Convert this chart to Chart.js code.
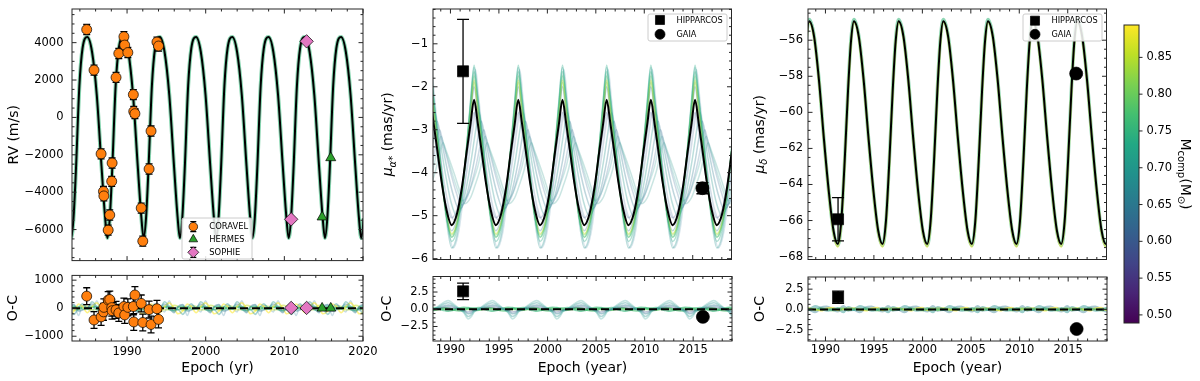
<!DOCTYPE html>
<html><head><meta charset="utf-8">
<script src="https://cdn.jsdelivr.net/npm/chart.js@4.4.1/dist/chart.umd.min.js"></script>
<style>html,body{margin:0;padding:0;background:#fff;}body{width:1200px;height:381px;position:relative;overflow:hidden;}</style>
</head><body>
<script>
// ================= DATA =================
// ---- Panel 1: radial velocities ----
const rvEpochRange = [1983.0, 2020.0];
const rvValueRange = [-7660, 5800];
const rvOCRange = [-1170, 1170];
const rvSeriesNames = ['CORAVEL', 'HERMES', 'SOPHIE'];
const rvModelPeakEpochs = [1980.34, 1984.95, 1989.56, 1994.17, 1998.78, 2003.39, 2008.0, 2012.61, 2017.22, 2021.83];
const rvModelCycleOffsets = [0, 0.6, 1.2, 1.8, 2.25, 2.55, 2.85, 3.15, 3.6, 4.0, 4.61];
const rvModelCycleValues = [4300, 3500, 1200, -2600, -5300, -6450, -5400, -2900, 1700, 3700, 4300];
const coravelEpochs = [1984.87, 1985.8, 1986.7, 1987.0, 1987.05, 1987.6, 1987.8, 1988.05, 1988.1, 1988.6, 1988.95, 1989.6, 1989.7, 1990.1, 1990.8, 1990.85, 1991.0, 1991.8, 1992.0, 1992.8, 1993.05, 1993.8, 1994.0];
const coravelRV = [4700, 2530, -1950, -3960, -4200, -6030, -5220, -3420, -2440, 2140, 3420, 4320, 3870, 3470, 1220, 320, 200, -4850, -6620, -2760, -730, 4030, 3820];
const coravelRVErr = [270, 270, 270, 270, 270, 270, 270, 270, 270, 270, 270, 270, 270, 270, 270, 270, 270, 270, 270, 270, 270, 270, 270];
const coravelOC = [430, -420, -310, -130, 30, 290, 310, 20, -90, -60, -170, 60, -240, 30, 60, -490, 470, 170, -510, -50, -580, -20, -400];
const coravelOCErr = [300, 300, 300, 300, 300, 300, 300, 300, 300, 300, 300, 300, 300, 300, 300, 300, 300, 300, 300, 300, 300, 300, 300];
const hermesEpochs = [2014.8, 2015.9];
const hermesRV = [-5330, -2160];
const hermesOC = [0, 0];
const sophieEpochs = [2010.87, 2012.83];
const sophieRV = [-5450, 4070];
const sophieOC = [10, 10];
const rvOCCycleOffsets = [0, 0.6, 1.2, 1.8, 2.3, 2.9, 3.5, 4.0, 4.61];
const rvOCSample1 = [0, 230, 60, -80, -40, -220, 20, 160, 0];
const rvOCSample2 = [20, 150, 0, -160, 60, 130, -100, -60, 20];
const rvOCSample3 = [-160, 60, 190, 0, -200, -110, 150, 60, -160];
const rvOCSample4 = [0, 80, -60, -90, 40, 70, -50, 30, 0];
const rvOCSample5 = [-40, 30, 60, 0, -60, 30, 60, -30, -40];
const rvOCSample6 = [0, -130, 260, -130, 0, 110, -260, 110, 0];
const rvOCSample7 = [60, -60, -40, 100, 60, -80, -30, 90, 60];

// ---- Panel 2: proper motion in RA ----
const astroEpochRange = [1988.2, 2019.0];
const astroSeriesNames = ['HIPPARCOS', 'GAIA'];
const pmraRange = [-6.02, -0.19];
const pmraOCRange = [-4.6, 4.75];
const pmraPeakEpochs = [1983.32, 1987.88, 1992.44, 1997.0, 2001.56, 2006.12, 2010.68, 2015.24, 2019.8];
const pmraCycleOffsets = [0, 0.35, 0.75, 1.2, 1.7, 2.25, 2.8, 3.3, 3.8, 4.2, 4.56];
const pmraBest = [-2.3, -2.8, -3.45, -4.2, -4.85, -5.22, -4.95, -4.35, -3.5, -2.85, -2.3];
const pmraSample1 = [-1.5, -2.15, -3.0, -4.0, -5.0, -5.6, -5.3, -4.5, -3.35, -2.3, -1.5];
const pmraSample2 = [-1.65, -2.25, -3.1, -4.05, -5.0, -5.5, -5.2, -4.45, -3.4, -2.4, -1.65];
const pmraSample3 = [-1.85, -2.45, -3.2, -4.1, -4.95, -5.42, -5.15, -4.45, -3.45, -2.55, -1.85];
const pmraSample4 = [-2.0, -2.55, -3.3, -4.15, -4.95, -5.35, -5.05, -4.4, -3.5, -2.65, -2.0];
const pmraSample5 = [-1.75, -2.35, -3.15, -4.1, -5.0, -5.5, -5.2, -4.45, -3.4, -2.45, -1.75];
const pmraSample6 = [-1.55, -2.2, -3.05, -4.05, -5.1, -5.75, -5.45, -4.6, -3.4, -2.35, -1.55];
const pmraSample7 = [-1.9, -2.5, -3.25, -4.15, -5.0, -5.45, -5.15, -4.45, -3.45, -2.6, -1.9];
const pmraSample8 = [-2.6, -3.0, -3.55, -4.2, -4.75, -5.05, -4.85, -4.3, -3.65, -3.05, -2.6];
const pmraSample9 = [-3.3, -3.5, -3.75, -4.05, -4.4, -4.72, -4.6, -4.3, -3.95, -3.55, -3.3];
const pmraSample10 = [-3.0, -3.3, -3.65, -4.05, -4.45, -4.75, -4.6, -4.25, -3.8, -3.35, -3.0];
const pmraSample11 = [-2.8, -3.15, -3.6, -4.1, -4.55, -4.85, -4.7, -4.3, -3.75, -3.2, -2.8];
const pmraSample12 = [-2.6, -3.0, -3.55, -4.15, -4.7, -5.0, -4.8, -4.3, -3.65, -3.05, -2.6];
const pmraSample13 = [-2.45, -2.9, -3.5, -4.2, -4.8, -5.1, -4.9, -4.35, -3.6, -2.95, -2.45];
const pmraSample14 = [-3.15, -3.4, -3.7, -4.05, -4.4, -4.65, -4.5, -4.2, -3.85, -3.45, -3.15];
const pmraSample15 = [-1.6, -2.3, -3.2, -4.2, -5.2, -5.75, -5.4, -4.55, -3.35, -2.35, -1.6];
const pmraSamplePhaseShifts = [0, 0, 0, 0, 0, 0, 0, 0, 1.35, 1.0, 0.75, 0.5, 0.25, 1.15, 0.15];
const pmraHipEpoch = [1991.3], pmraHipValue = [-1.64], pmraHipErr = [1.21];
const pmraGaiaEpoch = [2016.0], pmraGaiaValue = [-4.36], pmraGaiaErr = [0.13];
const pmraHipOC = [2.6], pmraHipOCErr = [1.2];
const pmraGaiaOC = [-1.1], pmraGaiaOCErr = [0.1];
const pmraOCCycleOffsets = [0, 0.5, 1.0, 1.5, 1.9, 2.4, 3.0, 3.5, 3.95, 4.3, 4.56];
const pmraOCSample1 = [-0.4, 0.1, 0.6, 1.05, 1.25, 0.8, 0.1, -0.5, -1.4, -1.0, -0.4];
const pmraOCSample2 = [-0.3, 0.05, 0.45, 0.8, 0.95, 0.6, 0.1, -0.4, -1.05, -0.75, -0.3];
const pmraOCSample3 = [-0.2, 0.0, 0.3, 0.5, 0.6, 0.4, 0.05, -0.25, -0.65, -0.5, -0.2];
const pmraOCSample4 = [-0.1, 0.0, 0.15, 0.3, 0.35, 0.2, 0.0, -0.15, -0.4, -0.3, -0.1];
const pmraOCSample5 = [0.15, 0.2, 0.05, -0.15, -0.25, -0.1, 0.15, 0.25, 0.2, 0.15, 0.15];
const pmraOCSample6 = [-0.15, -0.1, 0.1, 0.2, 0.15, -0.05, -0.2, -0.15, 0.15, 0.05, -0.15];
const pmraOCSample7 = [0.05, -0.05, 0.0, 0.1, 0.05, -0.05, 0.05, 0.1, 0.0, 0.05, 0.05];

// ---- Panel 3: proper motion in Dec ----
const pmdecRange = [-68.16, -54.27];
const pmdecOCRange = [-3.9, 4.0];
const pmdecPeakEpochs = [1983.72, 1988.33, 1992.94, 1997.55, 2002.16, 2006.77, 2011.38, 2015.99, 2020.6];
const pmdecCycleOffsets = [0, 0.5, 1.0, 1.5, 2.0, 2.5, 2.95, 3.3, 3.65, 4.0, 4.3, 4.61];
const pmdecBest = [-54.95, -55.8, -58.2, -61.4, -64.3, -66.55, -67.3, -66.05, -62.75, -58.8, -56.1, -54.95];
const pmdecSampleHigh = [-54.85, -55.75, -58.15, -61.4, -64.35, -66.6, -67.38, -66.1, -62.7, -58.7, -56.0, -54.85];
const pmdecSampleLow = [-55.0, -55.85, -58.25, -61.45, -64.4, -66.65, -67.45, -66.15, -62.8, -58.85, -56.15, -55.0];
const pmdecHipEpoch = [1991.3], pmdecHipValue = [-65.93], pmdecHipErr = [1.2];
const pmdecGaiaEpoch = [2015.87], pmdecGaiaValue = [-57.85], pmdecGaiaErr = [0.1];
const pmdecHipOC = [1.5], pmdecHipOCErr = [0.75];
const pmdecGaiaOC = [-2.42], pmdecGaiaOCErr = [0.1];
const pmdecOCCycleOffsets = [0, 0.6, 1.2, 1.8, 2.4, 2.95, 3.5, 4.0, 4.61];
const pmdecOCSample1 = [0, 0.35, 0.1, -0.1, 0, 0.1, -0.3, 0.25, 0];
const pmdecOCSample2 = [0.1, -0.1, 0.15, 0, -0.15, 0.1, 0.15, -0.1, 0.1];
const pmdecOCSample3 = [0.15, 0, -0.15, 0.1, 0.2, -0.1, 0, 0.15, 0.15];
const pmdecOCSample4 = [0, 0.05, -0.05, 0.05, 0, -0.05, 0.05, 0, 0];
const pmdecOCSample5 = [0, -0.3, 0.2, 0.3, 0, -0.2, 0.35, -0.1, 0];

// ---- Colour bar ----
const massRange = [0.489, 0.894];

// ================= STYLE =================
const FONT = '"DejaVu Sans", "Liberation Sans", sans-serif';
const TICK = 11.5;
const viridisStops = ['#440154', '#482475', '#414487', '#355f8d', '#2a788e', '#21918c', '#22a884', '#44bf70', '#7ad151', '#bddf26', '#fde725'];
const rvOCSampleColors = ['rgba(33,145,140,0.4)', 'rgba(42,120,142,0.4)', 'rgba(253,231,37,0.55)', 'rgba(53,183,121,0.6)', 'rgba(68,191,112,0.6)', 'rgba(120,170,190,0.4)', 'rgba(189,223,38,0.5)'];
const pmraSampleColors = ['rgba(34,168,132,0.35)', 'rgba(53,183,121,0.35)', 'rgba(189,223,38,0.4)', 'rgba(42,120,142,0.3)', 'rgba(94,201,98,0.35)', 'rgba(33,145,140,0.3)', 'rgba(122,209,81,0.35)', 'rgba(59,82,139,0.25)', 'rgba(80,170,160,0.3)', 'rgba(65,110,150,0.25)', 'rgba(42,120,142,0.3)', 'rgba(33,145,140,0.3)', 'rgba(80,120,160,0.25)', 'rgba(90,180,172,0.3)', 'rgba(120,170,190,0.3)'];
const pmraOCSampleColors = ['rgba(90,180,172,0.35)', 'rgba(33,145,140,0.35)', 'rgba(42,120,142,0.4)', 'rgba(59,82,139,0.35)', 'rgba(53,183,121,0.6)', 'rgba(68,191,112,0.6)', 'rgba(122,209,81,0.6)'];
const pmdecOCSampleColors = ['rgba(33,145,140,0.45)', 'rgba(122,209,81,0.5)', 'rgba(253,231,37,0.6)', 'rgba(53,183,121,0.65)', 'rgba(42,120,142,0.4)'];

Chart.defaults.font.family = FONT;
Chart.defaults.font.size = TICK;
Chart.defaults.color = '#000';
Chart.defaults.animation = false;

// ================= HELPERS =================
function tile(epochs, offsets, values, shift) {
  const s = shift || 0, out = [];
  epochs.forEach((e, k) => offsets.forEach((o, i) => {
    if (i === offsets.length - 1 && k < epochs.length - 1) return;
    out.push({x: e + s + o, y: values[i]});
  }));
  return out;
}
function pairs(xs, ys) { return xs.map((x, i) => ({x: x, y: ys[i]})); }
function stepVals(min, max, step) {
  const out = [];
  for (let k = Math.ceil(min / step - 1e-9); k * step <= max + 1e-9; k++) out.push(Math.round(k * step * 1e6) / 1e6);
  return out;
}
function lineDS(data, color, width, dash) {
  return {data: data, borderColor: color, backgroundColor: color, borderWidth: width, borderDash: dash || [],
    pointRadius: 0, pointHoverRadius: 0, fill: false, cubicInterpolationMode: 'monotone'};
}
function pointDS(data, style, r, fill, errs, cap) {
  return {data: data, showLine: false, pointStyle: style, pointRadius: r, pointHoverRadius: r,
    pointBackgroundColor: fill, pointBorderColor: '#000', pointBorderWidth: 0.7, borderColor: '#000',
    backgroundColor: fill, errY: errs, errCap: cap};
}
const minusFmt = v => String(v).replace('-', '\u2212');
const fix1 = v => (Math.abs(v) < 1e-9 ? 0 : v).toFixed(1).replace('-', '\u2212');
const fix2 = v => v.toFixed(2);

function drawMarker(ctx, style, x, y, r, fill) {
  ctx.beginPath();
  if (style === 'circle') ctx.arc(x, y, r, 0, Math.PI * 2);
  else if (style === 'triangle') { ctx.moveTo(x, y - r); ctx.lineTo(x + r * 0.866, y + r * 0.5); ctx.lineTo(x - r * 0.866, y + r * 0.5); ctx.closePath(); }
  else if (style === 'rectRot') { ctx.moveTo(x - r, y); ctx.lineTo(x, y - r); ctx.lineTo(x + r, y); ctx.lineTo(x, y + r); ctx.closePath(); }
  else { const h = r * Math.SQRT1_2; ctx.rect(x - h, y - h, 2 * h, 2 * h); }
  ctx.fillStyle = fill; ctx.fill();
  ctx.strokeStyle = '#000'; ctx.lineWidth = 0.7; ctx.stroke();
}

// ================= PLUGINS =================
const framePlugin = {
  id: 'frame',
  afterDatasetsDraw(chart, args, o) {
    if (!o || !o.yStep) return;
    const ctx = chart.ctx, a = chart.chartArea, xs = chart.scales.x, ys = chart.scales.y;
    const major = (v, step) => Math.abs(v / step - Math.round(v / step)) < 1e-6;
    ctx.save();
    ctx.strokeStyle = '#262626'; ctx.lineWidth = 1;
    ctx.beginPath();
    if (o.cbar) {
      stepVals(ys.min, ys.max, o.yStep).forEach(v => { const py = ys.getPixelForValue(v); ctx.moveTo(a.right, py); ctx.lineTo(a.right + 3.5, py); });
    } else {
      stepVals(xs.min, xs.max, o.xMinor).forEach(v => {
        const L = major(v, o.xStep) ? 4.5 : 2.5, px = xs.getPixelForValue(v);
        ctx.moveTo(px, a.bottom); ctx.lineTo(px, a.bottom - L);
        ctx.moveTo(px, a.top); ctx.lineTo(px, a.top + L);
      });
      stepVals(ys.min, ys.max, o.yMinor).forEach(v => {
        const L = major(v, o.yStep) ? 4.5 : 2.5, py = ys.getPixelForValue(v);
        ctx.moveTo(a.left, py); ctx.lineTo(a.left + L, py);
        ctx.moveTo(a.right, py); ctx.lineTo(a.right - L, py);
      });
    }
    ctx.stroke();
    ctx.strokeRect(a.left, a.top, a.right - a.left, a.bottom - a.top);
    ctx.restore();
  }
};
const errPlugin = {
  id: 'errbars',
  beforeDatasetDraw(chart, args) {
    const ds = chart.data.datasets[args.index];
    if (!ds || !ds.errY) return;
    const ctx = chart.ctx, a = chart.chartArea, xs = chart.scales.x, ys = chart.scales.y;
    ctx.save();
    ctx.beginPath(); ctx.rect(a.left, a.top, a.right - a.left, a.bottom - a.top); ctx.clip();
    ctx.strokeStyle = '#000'; ctx.lineWidth = 1.3;
    ctx.beginPath();
    const c = ds.errCap || 3.5;
    ds.data.forEach((p, i) => {
      const e = ds.errY[i], x = xs.getPixelForValue(p.x);
      const y1 = ys.getPixelForValue(p.y + e), y2 = ys.getPixelForValue(p.y - e);
      ctx.moveTo(x, y1); ctx.lineTo(x, y2);
      ctx.moveTo(x - c, y1); ctx.lineTo(x + c, y1);
      ctx.moveTo(x - c, y2); ctx.lineTo(x + c, y2);
    });
    ctx.stroke();
    ctx.restore();
  }
};
const cbarPlugin = {
  id: 'cbarFill',
  beforeDatasetsDraw(chart, args, o) {
    if (!o || !o.stops) return;
    const ctx = chart.ctx, a = chart.chartArea;
    const g = ctx.createLinearGradient(0, a.bottom, 0, a.top);
    o.stops.forEach((c, i) => g.addColorStop(i / (o.stops.length - 1), c));
    ctx.save(); ctx.fillStyle = g; ctx.fillRect(a.left, a.top, a.right - a.left, a.bottom - a.top); ctx.restore();
  }
};
const legendPlugin = {
  id: 'panelLegend',
  afterDraw(chart, args, o) {
    if (!o || !o.items) return;
    const ctx = chart.ctx, a = chart.chartArea;
    const [bx, by, bw, bh] = o.box;
    ctx.save();
    const x0 = a.left + bx, y0 = a.top + by, r = 2;
    ctx.beginPath();
    ctx.moveTo(x0 + r, y0); ctx.lineTo(x0 + bw - r, y0); ctx.arcTo(x0 + bw, y0, x0 + bw, y0 + r, r);
    ctx.lineTo(x0 + bw, y0 + bh - r); ctx.arcTo(x0 + bw, y0 + bh, x0 + bw - r, y0 + bh, r);
    ctx.lineTo(x0 + r, y0 + bh); ctx.arcTo(x0, y0 + bh, x0, y0 + bh - r, r);
    ctx.lineTo(x0, y0 + r); ctx.arcTo(x0, y0, x0 + r, y0, r); ctx.closePath();
    ctx.fillStyle = 'rgba(255,255,255,0.85)'; ctx.fill();
    ctx.strokeStyle = '#cccccc'; ctx.lineWidth = 1; ctx.stroke();
    o.items.forEach(it => {
      const mx = a.left + o.markerX, my = a.top + it.y;
      if (it.err) {
        ctx.beginPath(); ctx.strokeStyle = '#000'; ctx.lineWidth = 1.2;
        ctx.moveTo(mx, my - it.err); ctx.lineTo(mx, my + it.err);
        ctx.moveTo(mx - 3, my - it.err); ctx.lineTo(mx + 3, my - it.err);
        ctx.moveTo(mx - 3, my + it.err); ctx.lineTo(mx + 3, my + it.err);
        ctx.stroke();
      }
      drawMarker(ctx, it.style, mx, my, it.r, it.color);
      ctx.font = o.fontSize + 'px ' + FONT; ctx.fillStyle = '#000';
      ctx.textBaseline = 'middle'; ctx.textAlign = 'left';
      ctx.fillText(it.label, a.left + o.textX, my + 0.5);
    });
    ctx.restore();
  }
};
const richTitlePlugin = {
  id: 'richTitle',
  afterDraw(chart, args, o) {
    if (!o || !o.parts) return;
    const ctx = chart.ctx, a = chart.chartArea;
    ctx.save();
    ctx.translate(a.left + o.dx, (a.top + a.bottom) / 2 + (o.dy || 0));
    ctx.rotate(o.rot);
    const fontOf = p => (p.it ? 'italic ' : '') + p.s + 'px ' + FONT;
    let w = 0;
    o.parts.forEach(p => { ctx.font = fontOf(p); w += ctx.measureText(p.t).width; });
    let x = -w / 2;
    ctx.fillStyle = '#000'; ctx.textBaseline = 'alphabetic'; ctx.textAlign = 'left';
    o.parts.forEach(p => { ctx.font = fontOf(p); ctx.fillText(p.t, x, 5 + (p.dy || 0)); x += ctx.measureText(p.t).width; });
    ctx.restore();
  }
};
Chart.register(framePlugin, errPlugin, cbarPlugin, legendPlugin, richTitlePlugin);

function build(box, area, cfg) {
  const cv = document.createElement('canvas');
  cv.width = box.w; cv.height = box.h;
  cv.style.cssText = 'position:absolute;left:' + box.l + 'px;top:' + box.t + 'px;width:' + box.w + 'px;height:' + box.h + 'px';
  document.body.appendChild(cv);
  const yW = cfg.yRight ? (box.l + box.w - area.r) : (area.l - box.l);
  const xH = box.t + box.h - area.b;
  const zero = s => { s.paddingTop = 0; s.paddingBottom = 0; s.paddingLeft = 0; s.paddingRight = 0; };
  const pad = cfg.yRight
    ? {left: area.l - box.l, top: area.t - box.t, right: 0, bottom: xH}
    : {left: 0, top: area.t - box.t, right: box.l + box.w - area.r, bottom: 0};
  return new Chart(cv, {
    type: 'line',
    data: {datasets: cfg.datasets || []},
    options: {
      responsive: false, animation: false, events: [],
      layout: {padding: pad},
      scales: {
        x: {
          type: 'linear', min: cfg.x[0], max: cfg.x[1], display: !cfg.xHidden,
          afterBuildTicks: s => { s.ticks = stepVals(cfg.x[0], cfg.x[1], cfg.xStep || 1).map(v => ({value: v})); },
          ticks: {display: !!cfg.xLabels, autoSkip: false, maxRotation: 0, minRotation: 0,
            padding: cfg.xPad || 3.5, callback: v => String(v), font: {size: TICK}},
          grid: {display: false, drawTicks: false}, border: {display: false},
          title: {display: !!cfg.xTitle, text: cfg.xTitle || '', font: {size: 14}, padding: {top: 0, bottom: 4.5}},
          afterFit: s => { s.height = cfg.xHidden ? 0 : xH; zero(s); }
        },
        y: {
          type: 'linear', position: cfg.yRight ? 'right' : 'left', min: cfg.y[0], max: cfg.y[1],
          afterBuildTicks: s => { s.ticks = stepVals(cfg.y[0], cfg.y[1], cfg.yStep).map(v => ({value: v})); },
          ticks: {autoSkip: false, padding: cfg.yPad, callback: cfg.yFmt, font: {size: TICK}},
          grid: {display: false, drawTicks: false}, border: {display: false},
          title: {display: !!cfg.yTitle, text: cfg.yTitle || '', font: {size: 14}, padding: {top: cfg.yTitlePad || 0, bottom: 0}},
          afterFit: s => { s.width = yW; zero(s); }
        }
      },
      plugins: {
        legend: {display: false}, tooltip: {enabled: false},
        frame: cfg.frame || {}, panelLegend: cfg.legend || {}, richTitle: cfg.richTitle || {}, cbarFill: cfg.cbar || {}
      }
    }
  });
}

// ================= PANEL 1: RV =================
const rvModel = tile(rvModelPeakEpochs, rvModelCycleOffsets, rvModelCycleValues);
build({l: 0, t: 0, w: 372, h: 268}, {l: 72, t: 9, r: 363, b: 263}, {
  x: rvEpochRange, xStep: 10, y: rvValueRange, yStep: 2000, yPad: 8.5, yFmt: minusFmt,
  yTitle: 'RV (m/s)', yTitlePad: 6,
  frame: {xStep: 10, xMinor: 2, yStep: 2000, yMinor: 500},
  legend: {box: [110, 209, 70, 41], markerX: 121.3, textX: 137.3, fontSize: 8.4, items: [
    {label: rvSeriesNames[0], style: 'circle', r: 4.3, color: '#ff7f0e', y: 217.7, err: 5},
    {label: rvSeriesNames[1], style: 'triangle', r: 5, color: '#2ca02c', y: 230.3},
    {label: rvSeriesNames[2], style: 'rectRot', r: 5.5, color: '#e377c2', y: 243.3, err: 5}]},
  datasets: [
    pointDS(pairs(coravelEpochs, coravelRV), 'circle', 5, '#ff7f0e', coravelRVErr, 3.5),
    pointDS(pairs(hermesEpochs, hermesRV), 'triangle', 5.8, '#2ca02c', null),
    pointDS(pairs(sophieEpochs, sophieRV), 'rectRot', 6.7, '#e377c2', null),
    lineDS(rvModel, '#000', 2),
    lineDS(rvModel, 'rgba(53,183,121,0.6)', 4)
  ]
});
const rvOCSamples = [rvOCSample1, rvOCSample2, rvOCSample3, rvOCSample4, rvOCSample5, rvOCSample6, rvOCSample7];
build({l: 0, t: 268, w: 380, h: 113}, {l: 72, t: 274, r: 363, b: 341}, {
  x: rvEpochRange, xStep: 10, xLabels: true, xPad: 3.7, xTitle: 'Epoch (yr)',
  y: rvOCRange, yStep: 1000, yPad: 8.5, yFmt: minusFmt, yTitle: 'O-C', yTitlePad: 4.6,
  frame: {xStep: 10, xMinor: 2, yStep: 1000, yMinor: 200},
  datasets: [
    pointDS(pairs(coravelEpochs, coravelOC), 'circle', 5, '#ff7f0e', coravelOCErr, 3.5),
    pointDS(pairs(hermesEpochs, hermesOC), 'triangle', 5.8, '#2ca02c', null),
    pointDS(pairs(sophieEpochs, sophieOC), 'rectRot', 6.7, '#e377c2', null),
    lineDS([{x: rvEpochRange[0], y: 0}, {x: rvEpochRange[1], y: 0}], '#000', 2, [8, 4])
  ].concat(rvOCSamples.map((s, i) => lineDS(tile(rvModelPeakEpochs, rvOCCycleOffsets, s), rvOCSampleColors[i], 1.6)))
});

// ================= PANEL 2: pm RA =================
const pmraSamples = [pmraSample1, pmraSample2, pmraSample3, pmraSample4, pmraSample5, pmraSample6, pmraSample7, pmraSample8, pmraSample9, pmraSample10, pmraSample11, pmraSample12, pmraSample13, pmraSample14, pmraSample15];
const astroLegend = (rows) => ({box: [215, 5, 79, 27], markerX: 227, textX: 243.5, fontSize: 8.2, items: [
  {label: astroSeriesNames[0], style: 'rect', r: 6.4, color: '#000', y: rows[0]},
  {label: astroSeriesNames[1], style: 'circle', r: 5, color: '#000', y: rows[1]}]});
build({l: 376, t: 0, w: 364, h: 268}, {l: 433, t: 9, r: 732, b: 263}, {
  x: astroEpochRange, xStep: 5, y: pmraRange, yStep: 1, yPad: 5, yFmt: minusFmt,
  frame: {xStep: 5, xMinor: 1, yStep: 1, yMinor: 0.2},
  legend: astroLegend([11, 25.3]),
  richTitle: {dx: -46, rot: -Math.PI / 2, parts: [{t: 'μ', s: 14, it: true}, {t: 'α*', s: 10, it: true, dy: 3.5}, {t: ' (mas/yr)', s: 14}]},
  datasets: [
    pointDS(pairs(pmraHipEpoch, pmraHipValue), 'rect', 7.8, '#000', pmraHipErr, 6),
    pointDS(pairs(pmraGaiaEpoch, pmraGaiaValue), 'circle', 6.5, '#000', pmraGaiaErr, 6),
    lineDS(tile(pmraPeakEpochs, pmraCycleOffsets, pmraBest), '#000', 2)
  ].concat(pmraSamples.map((s, i) => lineDS(tile(pmraPeakEpochs, pmraCycleOffsets, s, pmraSamplePhaseShifts[i]), pmraSampleColors[i], 1.5)))
});
const pmraOCSamples = [pmraOCSample1, pmraOCSample2, pmraOCSample3, pmraOCSample4, pmraOCSample5, pmraOCSample6, pmraOCSample7];
build({l: 376, t: 268, w: 369, h: 113}, {l: 433, t: 276, r: 732, b: 341}, {
  x: astroEpochRange, xStep: 5, xLabels: true, xPad: 2.5, xTitle: 'Epoch (year)',
  y: pmraOCRange, yStep: 2.5, yPad: 4.5, yFmt: fix1, yTitle: 'O-C', yTitlePad: 2.6,
  frame: {xStep: 5, xMinor: 1, yStep: 2.5, yMinor: 0.625},
  datasets: [
    pointDS(pairs(pmraHipEpoch, pmraHipOC), 'rect', 7.8, '#000', pmraHipOCErr, 6),
    pointDS(pairs(pmraGaiaEpoch, pmraGaiaOC), 'circle', 6.5, '#000', pmraGaiaOCErr, 6),
    lineDS([{x: astroEpochRange[0], y: 0}, {x: astroEpochRange[1], y: 0}], '#000', 2, [8, 4])
  ].concat(pmraOCSamples.map((s, i) => lineDS(tile(pmraPeakEpochs, pmraOCCycleOffsets, s), pmraOCSampleColors[i], i >= 4 ? 2.2 : 1.6)))
});

// ================= PANEL 3: pm Dec =================
build({l: 745, t: 0, w: 370, h: 268}, {l: 808, t: 9, r: 1107, b: 263}, {
  x: astroEpochRange, xStep: 5, y: pmdecRange, yStep: 2, yPad: 5, yFmt: minusFmt,
  frame: {xStep: 5, xMinor: 1, yStep: 2, yMinor: 0.5},
  legend: astroLegend([11.7, 25.3]),
  richTitle: {dx: -49.5, rot: -Math.PI / 2, parts: [{t: 'μ', s: 14, it: true}, {t: 'δ', s: 10, it: true, dy: 3.5}, {t: ' (mas/yr)', s: 14}]},
  datasets: [
    pointDS(pairs(pmdecHipEpoch, pmdecHipValue), 'rect', 7.8, '#000', pmdecHipErr, 6),
    pointDS(pairs(pmdecGaiaEpoch, pmdecGaiaValue), 'circle', 6.5, '#000', pmdecGaiaErr, 6),
    lineDS(tile(pmdecPeakEpochs, pmdecCycleOffsets, pmdecBest), '#000', 2),
    lineDS(tile(pmdecPeakEpochs, pmdecCycleOffsets, pmdecSampleLow), 'rgba(253,231,37,0.45)', 2.5),
    lineDS(tile(pmdecPeakEpochs, pmdecCycleOffsets, pmdecSampleHigh), 'rgba(53,183,121,0.55)', 3.5)
  ]
});
const pmdecOCSamples = [pmdecOCSample1, pmdecOCSample2, pmdecOCSample3, pmdecOCSample4, pmdecOCSample5];
build({l: 745, t: 268, w: 373, h: 113}, {l: 808, t: 277, r: 1107, b: 341}, {
  x: astroEpochRange, xStep: 5, xLabels: true, xPad: 2.5, xTitle: 'Epoch (year)',
  y: pmdecOCRange, yStep: 2.5, yPad: 4.5, yFmt: fix1, yTitle: 'O-C', yTitlePad: 6.6,
  frame: {xStep: 5, xMinor: 1, yStep: 2.5, yMinor: 0.625},
  datasets: [
    pointDS(pairs(pmdecHipEpoch, pmdecHipOC), 'rect', 7.8, '#000', pmdecHipOCErr, 6),
    pointDS(pairs(pmdecGaiaEpoch, pmdecGaiaOC), 'circle', 6.5, '#000', pmdecGaiaOCErr, 6),
    lineDS([{x: astroEpochRange[0], y: 0}, {x: astroEpochRange[1], y: 0}], '#000', 2, [8, 4])
  ].concat(pmdecOCSamples.map((s, i) => lineDS(tile(pmdecPeakEpochs, pmdecOCCycleOffsets, s), pmdecOCSampleColors[i], i === 0 || i === 4 ? 3 : 2)))
});

// ================= COLOUR BAR =================
build({l: 1118, t: 0, w: 82, h: 381}, {l: 1124, t: 25, r: 1139, b: 323}, {
  x: [0, 1], xHidden: true, y: massRange, yStep: 0.05, yPad: 7.5, yFmt: fix2, yRight: true,
  frame: {cbar: true, yStep: 0.05},
  cbar: {stops: viridisStops},
  richTitle: {dx: 62, rot: Math.PI / 2, parts: [{t: 'M', s: 14}, {t: 'comp', s: 10, dy: 3.5}, {t: '(M', s: 14}, {t: '⊙', s: 10, dy: 3.5}, {t: ')', s: 14}]}
});
</script>
</body></html>
